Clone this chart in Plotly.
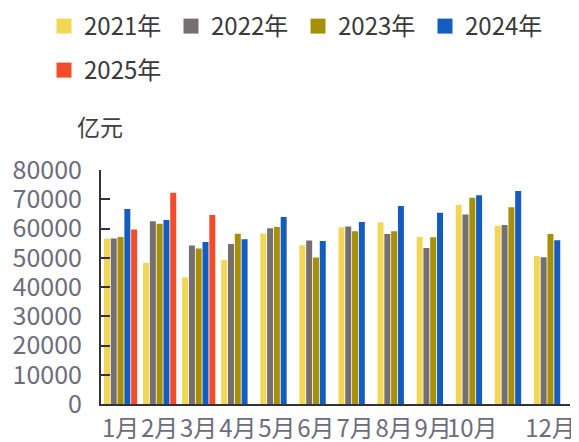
import plotly.graph_objects as go

months = ["1月", "2月", "3月", "4月", "5月", "6月", "7月", "8月", "9月", "10月", "11月", "12月"]
shown_months = ["1月", "2月", "3月", "4月", "5月", "6月", "7月", "8月", "9月", "10月", "12月"]

y2021 = [56600, 48200, 43300, 49200, 58300, 54300, 60400, 62100, 57100, 68100, 60900, 50600]
y2022 = [56600, 62500, 54200, 54700, 60100, 55900, 60700, 58100, 53300, 64800, 61200, 50200]
y2023 = [57100, 61600, 53200, 58200, 60500, 50100, 59100, 59100, 57000, 70500, 67300, 58100]
y2024 = [66700, 62900, 55400, 56300, 63900, 55700, 62200, 67700, 65400, 71400, 72800, 56000]
y2025 = [59700, 72200, 64600, None, None, None, None, None, None, None, None, None]

series = [
    ("2021年", y2021, "#F2D655", "legend"),
    ("2022年", y2022, "#756F6F", "legend"),
    ("2023年", y2023, "#A69009", "legend"),
    ("2024年", y2024, "#145CBE", "legend"),
    ("2025年", y2025, "#F44B2B", "legend2"),
]

y_ticks = [0, 10000, 20000, 30000, 40000, 50000, 60000, 70000, 80000]

FONT = "Noto Sans CJK SC"
OFF = 8  # page body margin
W, H = 579 - OFF, 442 - OFF
ML, MR, MT, MB = 101 - OFF, 9, 170 - OFF, 38
PW, PH = W - ML - MR, H - MT - MB


def px_x(x):  # page pixel -> paper
    return (x - OFF - ML) / PW


def px_y(y):
    return (OFF + H - MB - y) / PH


fig = go.Figure()
for name, vals, color, lg in series:
    fig.add_trace(go.Bar(
        x=months, y=vals, name=name, showlegend=False, legendgroup=name,
        marker=dict(color=color, line=dict(width=0)),
    ))
# legend-only entries (larger square swatches, as in the reference)
for name, vals, color, lg in series:
    fig.add_trace(go.Scatter(
        x=[None], y=[None], name=name, legend=lg, legendgroup=name,
        mode="markers", hoverinfo="skip",
        marker=dict(symbol="square", size=15, color=color, line=dict(width=0)),
    ))

n = len(months)
boundaries = [i - 0.5 for i in range(n + 1)]
hidden_idx = months.index("11月")
boundary_ticks = [b for b in boundaries if b != hidden_idx + 0.5]

legend_common = dict(
    orientation="h", xref="paper", yref="paper",
    xanchor="left", yanchor="top",
    font=dict(family=FONT, size=24, color="#3a3a3a"),
    bgcolor="rgba(0,0,0,0)",
)

fig.update_layout(
    width=W, height=H,
    margin=dict(l=ML, r=MR, t=MT, b=MB, autoexpand=False),
    paper_bgcolor="white", plot_bgcolor="white",
    barmode="group", bargap=0.13, bargroupgap=0.12,
    font=dict(family=FONT, color="#404040"),
    showlegend=True,
    legend=dict(x=px_x(44), y=px_y(4), entrywidth=82, entrywidthmode="pixels",
                **legend_common),
    legend2=dict(x=px_x(44), y=px_y(48), **legend_common),
    xaxis=dict(
        type="category", categoryorder="array", categoryarray=months,
        range=[-0.5, n - 0.5],
        tickvals=shown_months, ticktext=shown_months, tickangle=0,
        ticks="", showgrid=False, zeroline=False, automargin=False,
        showline=True, linecolor="#333333", linewidth=2,
        tickfont=dict(family=FONT, size=24, color="#6d6d7b"),
        ticklabelstandoff=2,
    ),
    xaxis2=dict(
        overlaying="x", anchor="y", side="bottom", automargin=False,
        range=[-0.5, n - 0.5], tickvals=boundary_ticks,
        showticklabels=False, ticks="outside", ticklen=7, tickwidth=2,
        tickcolor="#333333", showgrid=False, zeroline=False, showline=False,
    ),
    yaxis=dict(
        range=[0, 80000], tickvals=y_ticks, tickformat="d",
        ticks="inside", ticklen=9, tickwidth=2, tickcolor="#333333",
        showline=True, linecolor="#333333", linewidth=2,
        showgrid=False, zeroline=False, automargin=False,
        tickfont=dict(family=FONT, size=25, color="#6d6d7b"),
        ticklabelstandoff=12,
    ),
    annotations=[dict(
        text="亿元", xref="paper", yref="paper",
        x=px_x(100), y=px_y(126), xanchor="center", yanchor="middle",
        showarrow=False, font=dict(family=FONT, size=23, color="#404040"),
    )],
)

fig.write_html("out.html")
